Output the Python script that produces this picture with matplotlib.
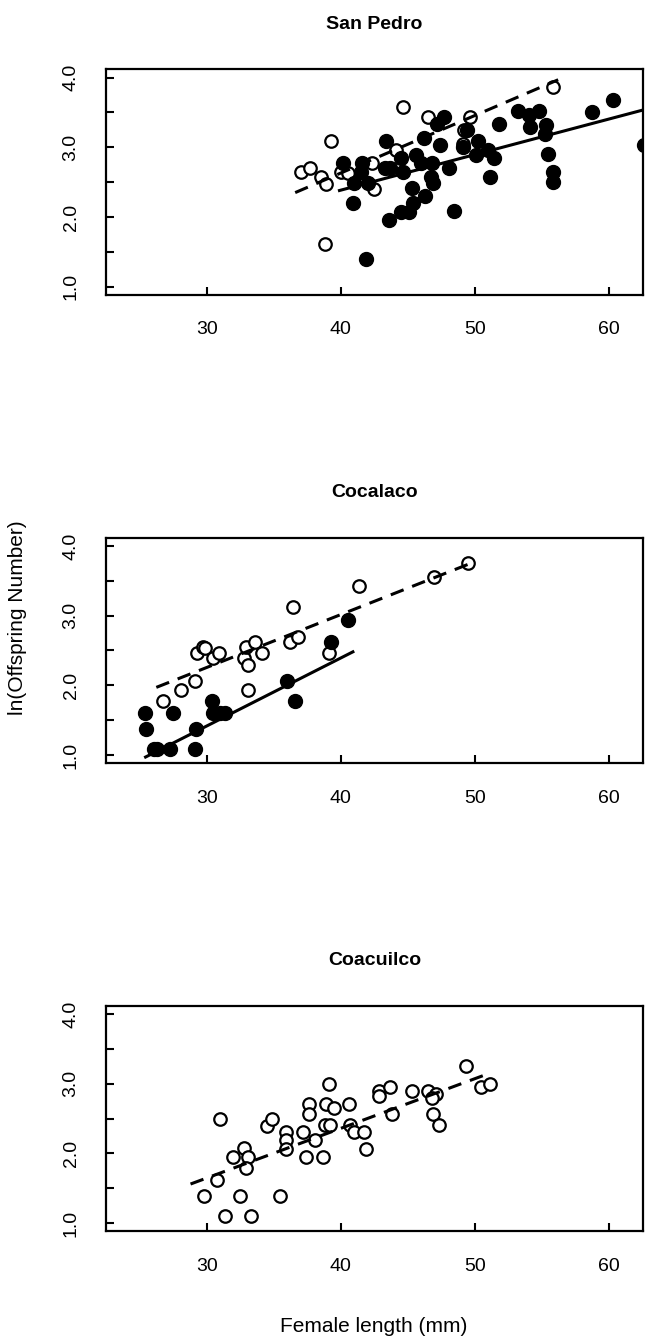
import matplotlib
matplotlib.use('Agg')
from matplotlib import pyplot as plt

plt.rcParams['font.family'] = ['Liberation Sans', 'DejaVu Sans']

#-----------------------------------------------------------------------
#	Data (female length in mm, ln offspring number)
#-----------------------------------------------------------------------

titles = ['San Pedro', 'Cocalaco', 'Coacuilco']

# San Pedro
spOpenX = [37.0, 37.7, 38.5, 38.9, 38.8, 39.3, 40.05, 40.5, 42.35, 42.5, 44.1,
           44.6, 46.5, 49.1, 49.2, 49.6, 55.8]
spOpenY = [2.65, 2.71, 2.57, 2.48, 1.61, 3.09, 2.64, 2.63, 2.77, 2.40, 2.96,
           3.58, 3.44, 3.05, 3.25, 3.44, 3.87]
spFillX = [40.2, 41.0, 40.9, 41.5, 41.6, 42.0, 41.9, 43.4, 43.3, 43.7, 43.6,
           44.5, 44.5, 44.6, 45.3, 45.4, 45.1, 45.6, 46.0, 46.2, 46.3, 46.8,
           46.7, 46.9, 47.4, 47.2, 47.7, 48.1, 48.4, 49.1, 49.4, 50.2, 50.1,
           51.0, 51.4, 51.1, 51.8, 53.2, 54.0, 54.8, 54.1, 55.3, 55.2, 55.45,
           55.8, 55.8, 58.7, 60.3, 62.6]
spFillY = [2.78, 2.49, 2.20, 2.65, 2.78, 2.49, 1.39, 3.09, 2.71, 2.71, 1.95,
           2.84, 2.07, 2.65, 2.41, 2.20, 2.07, 2.89, 2.77, 3.13, 2.30, 2.78,
           2.58, 2.49, 3.04, 3.33, 3.44, 2.71, 2.09, 3.01, 3.25, 3.09, 2.89,
           2.96, 2.84, 2.57, 3.34, 3.52, 3.46, 3.52, 3.29, 3.32, 3.19, 2.90,
           2.64, 2.50, 3.50, 3.68, 3.04]
spDashX = [36.6, 56.2]
spDashY = [2.35, 3.97]
spSolidX = [39.9, 63.0]
spSolidY = [2.38, 3.56]

# Cocalaco
coOpenX = [26.75, 28.1, 29.1, 29.25, 29.7, 29.85, 30.5, 30.9, 32.8, 32.9, 33.1,
           33.6, 34.1, 33.1, 36.4, 36.2, 36.8, 39.1, 41.35, 46.95, 49.5]
coOpenY = [1.78, 1.93, 2.06, 2.47, 2.55, 2.54, 2.39, 2.47, 2.39, 2.55, 2.29,
           2.62, 2.47, 1.93, 3.12, 2.62, 2.69, 2.47, 3.42, 3.56, 3.76]
coFillX = [25.4, 25.5, 26.05, 26.3, 27.25, 27.5, 29.1, 29.2, 30.4, 30.5, 31.0,
           31.4, 36.0, 36.6, 39.3, 40.5]
coFillY = [1.60, 1.37, 1.09, 1.09, 1.09, 1.60, 1.09, 1.37, 1.78, 1.60, 1.60,
           1.60, 2.06, 1.78, 2.62, 2.93]
coDashX = [26.25, 49.8]
coDashY = [1.97, 3.76]
coSolidX = [25.45, 40.9]
coSolidY = [0.97, 2.48]

# Coacuilco
caOpenX = [31.0, 29.8, 31.4, 32.5, 33.3, 30.8, 32.0, 32.8, 33.1, 32.9, 34.5,
           34.9, 35.5, 35.9, 35.9, 35.9, 37.2, 37.4, 37.6, 37.6, 38.1, 38.7,
           38.8, 39.2, 38.9, 39.1, 39.5, 40.6, 40.7, 41.0, 41.7, 41.85, 42.85,
           42.85, 43.7, 43.85, 45.3, 46.5, 47.1, 46.8, 46.9, 47.3, 49.35,
           50.45, 51.1]
caOpenY = [2.49, 1.39, 1.10, 1.39, 1.10, 1.62, 1.95, 2.08, 1.95, 1.79, 2.40,
           2.49, 1.39, 2.30, 2.19, 2.07, 2.30, 1.95, 2.71, 2.57, 2.19, 1.95,
           2.41, 2.41, 2.71, 3.00, 2.65, 2.71, 2.41, 2.30, 2.30, 2.07, 2.89,
           2.83, 2.95, 2.57, 2.90, 2.90, 2.85, 2.79, 2.57, 2.41, 3.26,
           2.96, 3.00]
caFillX = []
caFillY = []
caDashX = [28.8, 50.8]
caDashY = [1.56, 3.13]

xTicks = [30, 40, 50, 60]
yTicks = [1.0, 1.5, 2.0, 2.5, 3.0, 3.5, 4.0]
yTickLabels = ['1.0', '', '2.0', '', '3.0', '', '4.0']

#-----------------------------------------------------------------------
#	One panel: open = first group, filled = second group
#-----------------------------------------------------------------------

def drawPanel(ax, title, openX, openY, fillX, fillY, dash, solid):
	ax.plot(openX, openY, 'o', ms=9, mfc='white', mec='black', mew=1.6,
		linestyle='none', zorder=2)
	if fillX:
		ax.plot(fillX, fillY, 'o', ms=10, mfc='black', mec='black',
			linestyle='none', zorder=3)
	if dash:
		ax.plot(dash[0], dash[1], color='black', lw=2.2,
			dashes=(4.5, 3), zorder=4)
	if solid:
		ax.plot(solid[0], solid[1], color='black', lw=2.2, zorder=4)
	ax.set_xlim(22.5, 62.5)
	ax.set_ylim(0.88, 4.12)
	ax.set_xticks(xTicks)
	ax.set_xticklabels([str(t) for t in xTicks])
	ax.set_yticks(yTicks)
	ax.set_yticklabels(yTickLabels, rotation=90, va='center')
	ax.tick_params(direction='in', length=6, width=1.5, labelsize=14, pad=19)
	for s in ax.spines.values():
		s.set_linewidth(1.6)
	ax.set_title(title, fontsize=14, fontweight='bold', pad=29)


fig = plt.figure(figsize=(6.5, 13.43), dpi=100)
left = 106 / 650
width = 536.7 / 650
height = 225.7 / 1343
bottoms = [1 - 295 / 1343, 1 - 763.3 / 1343, 1 - 1231.4 / 1343]

panels = [
	(spOpenX, spOpenY, spFillX, spFillY, (spDashX, spDashY), (spSolidX, spSolidY)),
	(coOpenX, coOpenY, coFillX, coFillY, (coDashX, coDashY), (coSolidX, coSolidY)),
	(caOpenX, caOpenY, caFillX, caFillY, (caDashX, caDashY), None),
]

for i, p in enumerate(panels):
	ax = fig.add_axes([left, bottoms[i], width, height])
	drawPanel(ax, titles[i], *p)

fig.text(18 / 650, 1 - 618 / 1343, 'ln(Offspring Number)', rotation=90,
	ha='center', va='center', fontsize=15)
fig.text(374 / 650, 1 - 1326 / 1343, 'Female length (mm)',
	ha='center', va='center', fontsize=15)

fig.savefig('out.png', dpi=100)
